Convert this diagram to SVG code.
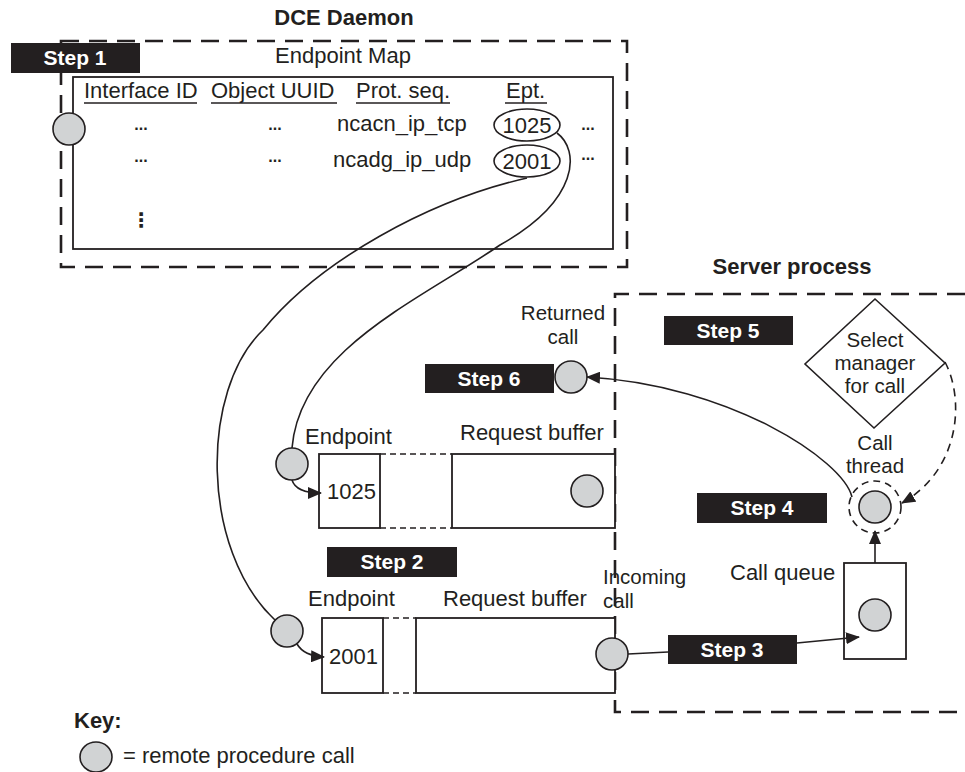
<svg xmlns="http://www.w3.org/2000/svg" width="965" height="772" viewBox="0 0 965 772">
<defs>
<style>
text{font-family:"Liberation Sans",Arial,sans-serif;font-size:22px;fill:#231f20}
.b{font-weight:bold}
.ml{font-size:20.5px}
.step{font-weight:bold;font-size:21px;fill:#fff;text-anchor:middle}
.mid{text-anchor:middle}
.stepbox{fill:#231f20}
.rpc{fill:#d1d3d4;stroke:#231f20;stroke-width:1.6}
.box{fill:#fff;stroke:#231f20;stroke-width:1.8}
.dashbox{fill:none;stroke:#231f20;stroke-width:2.6;stroke-dasharray:18 10}
.thin-dash{fill:none;stroke:#231f20;stroke-width:1.4;stroke-dasharray:6 4}
.conn{fill:none;stroke:#231f20;stroke-width:1.6}
.ul{stroke:#231f20;stroke-width:1.4}
.dots{font-weight:bold;font-size:16px;text-anchor:middle}
</style>
<marker id="arr" markerWidth="14" markerHeight="12" refX="13" refY="6" orient="auto" markerUnits="userSpaceOnUse">
<path d="M0,0 L14,6 L0,12 z" fill="#231f20"/>
</marker>
</defs>
<rect width="965" height="772" fill="#fff"/>

<g id="dce-daemon">
<text class="b mid" x="344" y="25">DCE Daemon</text>
<rect class="dashbox" x="61" y="41" width="566" height="226"/>
</g>

<g id="step1">
<rect class="stepbox" x="11" y="43" width="129" height="30"/>
<text class="step" x="75" y="65">Step 1</text>
</g>

<g id="endpoint-map">
<text class="mid" x="343" y="63">Endpoint Map</text>
<rect class="box" x="73" y="77" width="540" height="172" fill="none"/>
<text x="84" y="98">Interface ID</text>
<line class="ul" x1="84" y1="103" x2="197" y2="103"/>
<text x="211" y="98">Object UUID</text>
<line class="ul" x1="211" y1="103" x2="337" y2="103"/>
<text x="356" y="98">Prot. seq.</text>
<line class="ul" x1="356" y1="103" x2="450" y2="103"/>
<text x="506" y="98">Ept.</text>
<line class="ul" x1="505" y1="103" x2="547" y2="103"/>
<text class="dots" x="141" y="130">...</text>
<text class="dots" x="275" y="130">...</text>
<text x="337" y="131">ncacn_ip_tcp</text>
<ellipse cx="527" cy="125" rx="33" ry="16" fill="#fff" stroke="#231f20" stroke-width="1.6"/>
<text class="mid" x="527" y="133">1025</text>
<text class="dots" x="588" y="130">...</text>
<text class="dots" x="141" y="162">...</text>
<text class="dots" x="275" y="162">...</text>
<text x="333" y="167">ncadg_ip_udp</text>
<ellipse cx="527" cy="161" rx="33" ry="16" fill="#fff" stroke="#231f20" stroke-width="1.6"/>
<text class="mid" x="527" y="169">2001</text>
<text class="dots" x="588" y="160">...</text>
<text class="mid" x="141" y="227" style="font-family:'DejaVu Sans',sans-serif;font-size:20px;font-weight:bold">⋮</text>
<circle class="rpc" cx="69" cy="129" r="16"/>
</g>

<g id="server-process">
<text class="b mid" x="792" y="274">Server process</text>
<path class="dashbox" d="M965,294 L615,294 L615,712 L965,712"/>
</g>

<g id="endpoint-1025">
<text x="305" y="444">Endpoint</text>
<text x="460" y="440">Request buffer</text>
<rect class="box" x="319" y="454" width="61" height="74"/>
<text x="327" y="499">1025</text>
<line class="thin-dash" x1="380" y1="454" x2="452" y2="454"/>
<line class="thin-dash" x1="380" y1="528" x2="452" y2="528"/>
<rect class="box" x="452" y="454" width="163" height="74"/>
<circle class="rpc" cx="587" cy="491" r="16"/>
<circle class="rpc" cx="292" cy="464" r="16"/>
</g>

<g id="step2">
<rect class="stepbox" x="327" y="547" width="130" height="30"/>
<text class="step" x="392" y="569">Step 2</text>
</g>

<g id="endpoint-2001">
<text x="308" y="606">Endpoint</text>
<text x="443" y="606">Request buffer</text>
<rect class="box" x="322" y="618" width="61" height="75"/>
<text x="329" y="664">2001</text>
<line class="thin-dash" x1="383" y1="618" x2="416" y2="618"/>
<line class="thin-dash" x1="383" y1="693" x2="416" y2="693"/>
<rect class="box" x="416" y="618" width="199" height="75"/>
<circle class="rpc" cx="287" cy="631" r="16"/>
</g>

<g id="incoming-call">
<text class="ml" x="603" y="584">Incoming</text>
<text class="ml" x="603" y="608">call</text>
<circle class="rpc" cx="612" cy="654" r="16"/>
</g>

<g id="returned-call">
<text class="mid ml" x="563" y="320">Returned</text>
<text class="mid ml" x="563" y="344">call</text>
<circle class="rpc" cx="571" cy="377" r="16"/>
</g>

<g id="step6">
<rect class="stepbox" x="425" y="364" width="129" height="29"/>
<text class="step" x="489" y="386">Step 6</text>
</g>

<g id="step5">
<rect class="stepbox" x="664" y="316" width="129" height="29"/>
<text class="step" x="728" y="338">Step 5</text>
</g>

<g id="select-manager">
<polygon points="875,299 945,363 874,428 805,364" fill="#fff" stroke="#231f20" stroke-width="1.6"/>
<text class="mid ml" x="875" y="347">Select</text>
<text class="mid ml" x="875" y="370">manager</text>
<text class="mid ml" x="875" y="393">for call</text>
</g>

<g id="call-thread">
<text class="mid ml" x="875" y="450">Call</text>
<text class="mid ml" x="875" y="473">thread</text>
<circle cx="875" cy="507" r="26" fill="none" stroke="#231f20" stroke-width="1.6" stroke-dasharray="7 5"/>
<circle class="rpc" cx="875" cy="507" r="16"/>
</g>

<g id="step4">
<rect class="stepbox" x="697" y="493" width="130" height="30"/>
<text class="step" x="762" y="515">Step 4</text>
</g>

<g id="call-queue">
<text x="730" y="580">Call queue</text>
<rect class="box" x="844" y="563" width="62" height="96"/>
<circle class="rpc" cx="875" cy="615" r="16"/>
</g>

<g id="step3">
<rect class="stepbox" x="668" y="635" width="129" height="29"/>
<text class="step" x="732" y="657">Step 3</text>
</g>

<g id="key">
<text class="b" x="74" y="728">Key:</text>
<ellipse class="rpc" cx="96" cy="757" rx="16" ry="15"/>
<text x="123" y="763">= remote procedure call</text>
</g>

<g id="connectors">
<path class="conn" d="M557,133 C580,150 580,200 500,245 C420,300 300,350 292,448"/>
<path class="conn" d="M527,178 C430,200 320,260 263,330 C200,390 200,550 275,620"/>
<path class="conn" d="M292,480 Q296,493 321,493" marker-end="url(#arr)"/>
<path class="conn" d="M297,644 Q304,656 324,657" marker-end="url(#arr)"/>
<path class="conn" d="M628,654 L668,652"/>
<path class="conn" d="M797,643 L859,637" marker-end="url(#arr)"/>
<path class="conn" d="M875,563 L875,531" marker-end="url(#arr)"/>
<path class="conn" d="M852,497 C843,460 730,385 587,377" marker-end="url(#arr)"/>
<path class="conn" d="M945,362 C965,400 960,470 902,503" stroke-dasharray="8 6" marker-end="url(#arr)"/>
</g>
</svg>
